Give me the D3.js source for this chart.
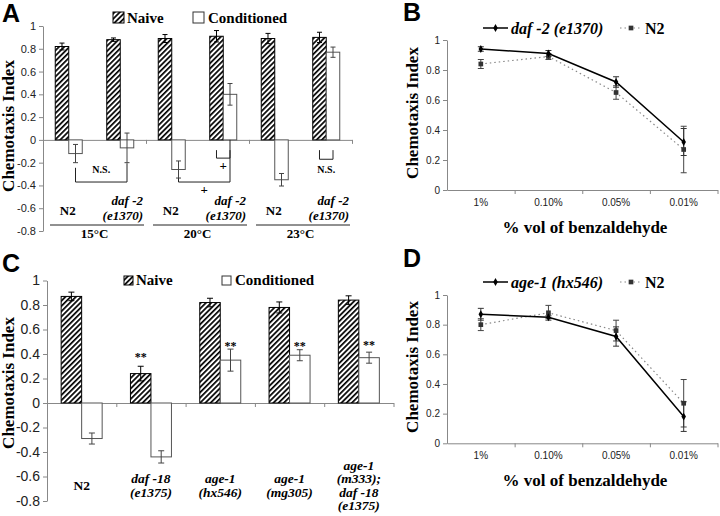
<!DOCTYPE html>
<meta charset="utf-8">
<html>
<head>
<script src="https://d3js.org/d3.v7.min.js"></script>
<style>
  body { margin: 0; background: #fff; }
  svg { display: block; }
</style>
</head>
<body>
<svg id="fig" width="720" height="516"></svg>
<script>
// ---------- data ----------
// panel A: N2 / daf-2 at three temperatures
const aCats = ["N2", "daf -2", "N2", "daf -2", "N2", "daf -2"];
const aTemps = ["15°C", "20°C", "23°C"];
const aNaive = [0.82, 0.88, 0.89, 0.91, 0.89, 0.90];
const aNaiveErr = [0.03, 0.015, 0.035, 0.05, 0.045, 0.045];
const aCond = [-0.12, -0.07, -0.26, 0.40, -0.35, 0.77];
const aCondErr = [0.08, 0.13, 0.075, 0.095, 0.055, 0.045];

// panel C: strains
const cCats = [["N2"], ["daf -18", "(e1375)"], ["age-1", "(hx546)"], ["age-1", "(mg305)"], ["age-1", "(m333);", "daf -18", "(e1375)"]];
const cNaive = [0.87, 0.24, 0.82, 0.78, 0.84];
const cNaiveErr = [0.035, 0.06, 0.035, 0.045, 0.035];
const cCond = [-0.29, -0.44, 0.35, 0.39, 0.37];
const cCondErr = [0.045, 0.05, 0.09, 0.045, 0.045];
const cStars = [null, 0.41, 0.50, 0.50, 0.51]; // level of "**"

// panels B and D: dose response
const conc = ["1%", "0.10%", "0.05%", "0.01%"];
const bDaf2 = [0.94, 0.91, 0.72, 0.32];
const bDaf2Err = [0.015, 0.02, 0.035, 0.09];
const bN2 = [0.84, 0.89, 0.65, 0.27];
const bN2Err = [0.03, 0.02, 0.045, 0.155];
const dAge1 = [0.87, 0.85, 0.72, 0.18];
const dAge1Err = [0.04, 0.01, 0.065, 0.10];
const dN2 = [0.80, 0.88, 0.76, 0.27];
const dN2Err = [0.04, 0.05, 0.07, 0.16];

const barTicks = [-0.8, -0.6, -0.4, -0.2, 0, 0.2, 0.4, 0.6, 0.8, 1];
const lineTicks = [0, 0.2, 0.4, 0.6, 0.8, 1];

// ---------- setup ----------
const serif = '"Liberation Serif", "Times New Roman", serif';
const sans = '"Liberation Sans", Arial, sans-serif';
const svg = d3.select("#fig");
svg.append("rect").attr("width", 720).attr("height", 516).attr("fill", "#fff");

const pat = svg.append("defs").append("pattern")
  .attr("id", "hatch")
  .attr("patternUnits", "userSpaceOnUse")
  .attr("width", 3.7).attr("height", 3.7)
  .attr("patternTransform", "rotate(45)");
pat.append("rect").attr("width", 3.7).attr("height", 3.7).attr("fill", "#fff");
pat.append("rect").attr("width", 1.7).attr("height", 3.7).attr("fill", "#000");

function styleAxis(g, size) {
  g.select(".domain").attr("stroke", "#888");
  g.selectAll(".tick line").attr("stroke", "#888");
  g.selectAll(".tick text").attr("fill", "#222")
    .attr("font-family", sans).attr("font-size", size);
}

function errBar(g, x, y0, y1, w, color) {
  g.append("line").attr("x1", x).attr("x2", x).attr("y1", y0).attr("y2", y1)
    .attr("stroke", color).attr("stroke-width", 1);
  [y0, y1].forEach(y => g.append("line")
    .attr("x1", x - w / 2).attr("x2", x + w / 2).attr("y1", y).attr("y2", y)
    .attr("stroke", color).attr("stroke-width", 1));
}

function label(x, y, txt, opts = {}) {
  return svg.append("text").attr("x", x).attr("y", y).text(txt)
    .attr("font-family", opts.family || serif)
    .attr("font-weight", opts.weight || "bold")
    .attr("font-style", opts.italic ? "italic" : "normal")
    .attr("font-size", opts.size || 13)
    .attr("text-anchor", opts.anchor || "start")
    .attr("fill", opts.fill || "#000");
}

function yTitle(x, y, size) {
  label(0, 0, "Chemotaxis Index", { size: size, anchor: "middle" })
    .attr("transform", `translate(${x},${y}) rotate(-90)`);
}

// bars for a panel
function drawBars(x, sub, y, naive, naiveErr, cond, condErr, cap) {
  const rows = [];
  naive.forEach((v, i) => rows.push({ i, s: "naive", v, e: naiveErr[i] }));
  cond.forEach((v, i) => rows.push({ i, s: "cond", v, e: condErr[i] }));
  const g = svg.append("g");
  g.selectAll("rect").data(rows).enter().append("rect")
    .attr("x", d => x(d.i) + sub(d.s))
    .attr("width", sub.bandwidth())
    .attr("y", d => y(Math.max(0, d.v)))
    .attr("height", d => Math.abs(y(d.v) - y(0)))
    .attr("fill", d => d.s === "naive" ? "url(#hatch)" : "#fff")
    .attr("stroke", d => d.s === "naive" ? "#000" : "#555")
    .attr("stroke-width", 1);
  rows.forEach(d => errBar(g, x(d.i) + sub(d.s) + sub.bandwidth() / 2,
    y(d.v - d.e), y(d.v + d.e), cap, d.s === "naive" ? "#000" : "#444"));
}

function legendBars(x, y, box, gap2) {
  svg.append("rect").attr("x", x).attr("y", y).attr("width", box).attr("height", box)
    .attr("fill", "url(#hatch)").attr("stroke", "#000");
  label(x + box + 3, y + box, "Naive", { size: 15 });
  svg.append("rect").attr("x", x + gap2).attr("y", y).attr("width", box).attr("height", box)
    .attr("fill", "#fff").attr("stroke", "#333");
  label(x + gap2 + box + 4, y + box, "Conditioned", { size: 15 });
}

// ---------- panel A ----------
const yA = d3.scaleLinear().domain([-0.8, 1]).range([231, 26]);
const xA = d3.scaleBand().domain(d3.range(aCats.length)).range([43, 352]);
const xAi = d3.scaleLinear().domain([0, aCats.length]).range([43, 352]);
const subA = d3.scaleBand().domain(["naive", "cond"]).range([0, xA.bandwidth()]).paddingOuter(0.907);
const cxA = (i, s) => xA(i) + subA(s) + subA.bandwidth() / 2;

svg.append("g").attr("transform", "translate(43,0)")
  .call(d3.axisLeft(yA).tickValues(barTicks).tickFormat(d => d).tickSize(4).tickSizeOuter(0))
  .call(g => styleAxis(g, 11));
svg.append("g").attr("transform", `translate(0,${yA(0)})`)
  .call(d3.axisBottom(xAi).tickValues([2, 4, 6]).tickFormat("").tickSize(4).tickSizeOuter(0))
  .call(g => styleAxis(g, 11));

drawBars(xA, subA, yA, aNaive, aNaiveErr, aCond, aCondErr, 5);
legendBars(113, 12, 11, 80);
yTitle(14, 126, 17);
label(2, 22, "A", { family: sans, size: 25 });

// brackets
function bracket(x1, x2, yl, yr, yb) {
  svg.append("path")
    .attr("d", `M${x1},${yl}V${yb}H${x2}V${yr}`)
    .attr("fill", "none").attr("stroke", "#222").attr("stroke-width", 1);
}
bracket(cxA(0, "cond"), cxA(1, "cond"), yA(-0.245), yA(-0.205), yA(-0.37));
label((cxA(0, "cond") + cxA(1, "cond")) / 2, yA(-0.295), "N.S.", { size: 10, anchor: "middle" });
bracket(cxA(2, "cond"), cxA(3, "cond"), yA(-0.336), yA(0), yA(-0.37));
label((cxA(2, "cond") + cxA(3, "cond")) / 2, yA(-0.475), "+", { size: 13, anchor: "middle" });
bracket(cxA(3, "naive"), cxA(3, "cond"), yA(-0.09), yA(-0.09), yA(-0.16));
label(cxA(3, "naive") + subA.bandwidth() / 2, yA(-0.262), "+", { size: 13, anchor: "middle" });
bracket(cxA(5, "naive"), cxA(5, "cond"), yA(-0.09), yA(-0.09), yA(-0.17));
label(cxA(5, "naive") + subA.bandwidth() / 2, yA(-0.287), "N.S.", { size: 10, anchor: "middle" });

// category labels A
aCats.forEach((c, i) => {
  if (c === "N2") {
    label(xA(i) + xA.bandwidth() / 2 - 1, 215, c, { anchor: "middle" });
  } else {
    const xr = xA(i) + xA.bandwidth() - 3;
    label(xr, 204.5, c, { italic: true, anchor: "end" });
    label(xr, 219.5, "(e1370)", { italic: true, anchor: "end" });
  }
});
aTemps.forEach((t, k) => {
  const x0 = xA(2 * k), x1 = xA(2 * k + 1) + xA.bandwidth();
  svg.append("line").attr("x1", x0 + 7).attr("x2", x1 - 2).attr("y1", 225).attr("y2", 225)
    .attr("stroke", "#222");
  label((x0 + x1) / 2, 238, t, { anchor: "middle" });
});

// ---------- panel C ----------
const yC = d3.scaleLinear().domain([-0.8, 1]).range([501, 280.5]);
const xC = d3.scaleBand().domain(d3.range(cCats.length)).range([47, 393.5]);
const xCi = d3.scaleLinear().domain([0, cCats.length]).range([47, 393.5]);
const subC = d3.scaleBand().domain(["naive", "cond"]).range([0, xC.bandwidth()]).paddingOuter(0.69);

svg.append("g").attr("transform", "translate(47,0)")
  .call(d3.axisLeft(yC).tickValues(barTicks).tickFormat(d => d).tickSize(4).tickSizeOuter(0))
  .call(g => styleAxis(g, 14));
svg.append("g").attr("transform", `translate(0,${yC(0)})`)
  .call(d3.axisBottom(xCi).tickValues(d3.range(1, cCats.length + 1)).tickFormat("").tickSize(4).tickSizeOuter(0))
  .call(g => styleAxis(g, 14));

drawBars(xC, subC, yC, cNaive, cNaiveErr, cCond, cCondErr, 6);
legendBars(124, 276, 9, 98);
yTitle(14, 383, 17);
label(2, 272, "C", { family: sans, size: 25 });

cStars.forEach((s, i) => {
  if (s === null) return;
  const xs = i === 1 ? xC(i) + subC("naive") + subC.bandwidth() / 2
                     : xC(i) + subC("cond") + subC.bandwidth() / 2;
  label(xs, yC(s) + 8, "**", { size: 12, anchor: "middle" });
});
cCats.forEach((lines, i) => {
  const n = lines.length;
  lines.forEach((t, k) => {
    label(xC(i) + xC.bandwidth() / 2, 490 + (k - (n - 1) / 2) * 13.5, t,
      { size: 13.5, italic: t !== "N2", anchor: "middle" });
  });
});

// ---------- panels B and D ----------
const xL = d3.scaleBand().domain(conc).range([447, 717.5]);
const xLi = d3.scaleLinear().domain([0, conc.length]).range([447, 717.5]);
const cxL = c => xL(c) + xL.bandwidth() / 2;

function linePanel(y, mut, mutErr, n2, n2Err, mutName, letter, letterY, legY, titleY, yTitleY) {
  const x0 = 447;
  svg.append("g").attr("transform", `translate(${x0},0)`)
    .call(d3.axisLeft(y).tickValues(lineTicks).tickFormat(d => d).tickSize(4).tickSizeOuter(0))
    .call(g => styleAxis(g, 10));
  svg.append("g").attr("transform", `translate(0,${y(0)})`)
    .call(d3.axisBottom(xLi).tickValues(d3.range(1, conc.length + 1)).tickFormat("").tickSize(4).tickSizeOuter(0))
    .call(g => styleAxis(g, 10));
  svg.append("g").attr("transform", `translate(0,${y(0)})`)
    .call(d3.axisBottom(xL).tickSize(0).tickPadding(9))
    .call(g => g.select(".domain").remove())
    .call(g => styleAxis(g, 10));

  const g = svg.append("g");
  const line = d3.line().x((d, i) => cxL(conc[i])).y(d => y(d));

  // N2 dotted
  n2.forEach((v, i) => errBar(g, cxL(conc[i]), y(v - n2Err[i]), y(v + n2Err[i]), 6, "#444"));
  g.append("path").datum(n2).attr("d", line).attr("fill", "none")
    .attr("stroke", "#888").attr("stroke-width", 1.2).attr("stroke-dasharray", "1.5,3");
  g.selectAll(".sq").data(n2).enter().append("path")
    .attr("d", d3.symbol(d3.symbolSquare).size(22))
    .attr("transform", (d, i) => `translate(${cxL(conc[i])},${y(d)})`)
    .attr("fill", "#333");

  // mutant solid
  mut.forEach((v, i) => errBar(g, cxL(conc[i]), y(v - mutErr[i]), y(v + mutErr[i]), 6, "#333"));
  g.append("path").datum(mut).attr("d", line).attr("fill", "none")
    .attr("stroke", "#000").attr("stroke-width", 1.5);
  g.selectAll(".dm").data(mut).enter().append("path")
    .attr("d", d3.symbol(d3.symbolDiamond).size(18))
    .attr("transform", (d, i) => `translate(${cxL(conc[i])},${y(d)})`)
    .attr("fill", "#000");

  // legend
  svg.append("line").attr("x1", 483).attr("x2", 508).attr("y1", legY).attr("y2", legY)
    .attr("stroke", "#000").attr("stroke-width", 1.5);
  svg.append("path").attr("d", d3.symbol(d3.symbolDiamond).size(18))
    .attr("transform", `translate(495.5,${legY})`);
  label(511, legY + 5.5, mutName, { size: 16, italic: true });
  svg.append("line").attr("x1", 620).attr("x2", 642).attr("y1", legY).attr("y2", legY)
    .attr("stroke", "#888").attr("stroke-width", 1.2).attr("stroke-dasharray", "1.5,3");
  svg.append("path").attr("d", d3.symbol(d3.symbolSquare).size(22))
    .attr("transform", `translate(631,${legY})`).attr("fill", "#333");
  label(645, legY + 5.5, "N2", { size: 16 });

  label(585, titleY, "% vol of benzaldehyde", { size: 17, anchor: "middle" });
  yTitle(418, yTitleY, 17);
  label(403, letterY, letter, { family: sans, size: 25 });
}

const yB = d3.scaleLinear().domain([0, 1]).range([190, 40]);
const yD = d3.scaleLinear().domain([0, 1]).range([443.3, 295]);
linePanel(yB, bDaf2, bDaf2Err, bN2, bN2Err, "daf -2 (e1370)", "B", 21, 28, 233, 113);
linePanel(yD, dAge1, dAge1Err, dN2, dN2Err, "age-1 (hx546)", "D", 267, 282, 486, 367);
</script>
</body>
</html>
